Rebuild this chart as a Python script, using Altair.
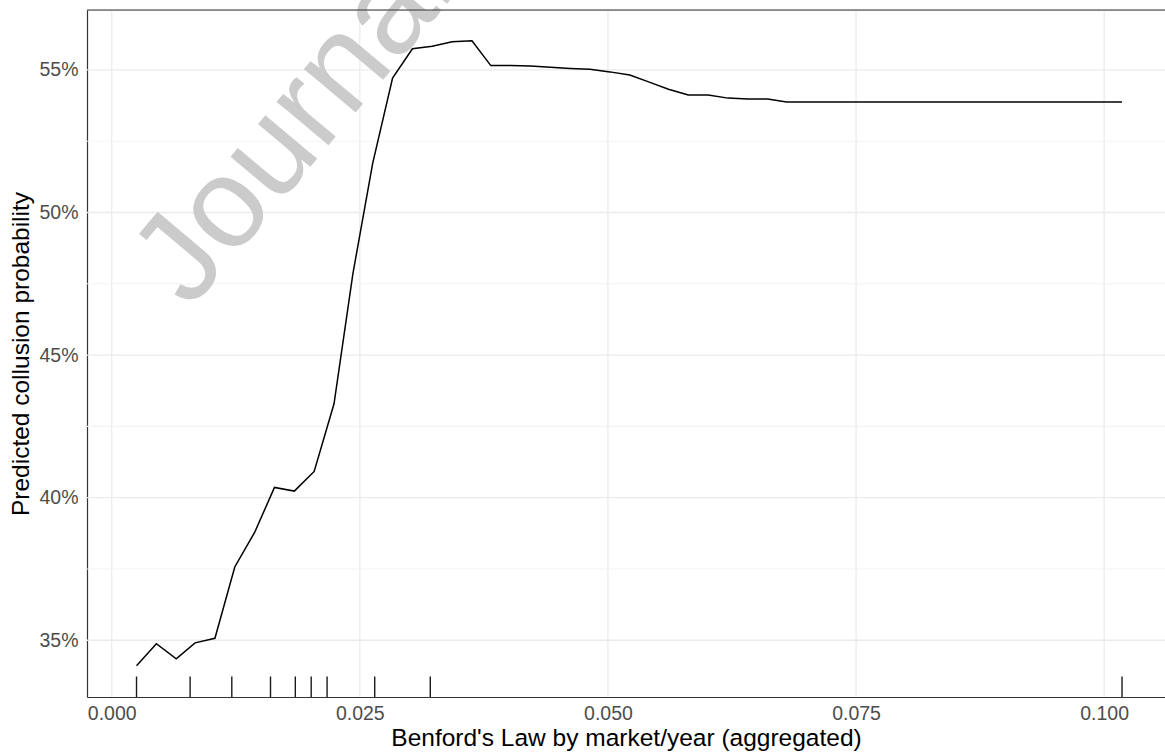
import altair as alt
import pandas as pd

# Line (predicted collusion probability vs Benford's Law statistic)
x_vals = [0.0025, 0.0045, 0.0065, 0.0084, 0.0104, 0.0124, 0.0144, 0.0164, 0.0184, 0.0204,
          0.0224, 0.0243, 0.0263, 0.0283, 0.0303, 0.0323, 0.0343, 0.0363, 0.0382, 0.0402,
          0.0422, 0.0442, 0.0462, 0.0482, 0.0502, 0.0522, 0.0541, 0.0561, 0.0581, 0.0601,
          0.0621, 0.0641, 0.0661, 0.0680, 0.0700, 0.0720, 0.0740, 0.0760, 0.0780, 0.0800,
          0.0819, 0.0839, 0.0859, 0.0879, 0.0899, 0.0919, 0.0939, 0.0959, 0.0978, 0.0998,
          0.1018]
y_vals = [0.3411, 0.3488, 0.3435, 0.3491, 0.3507, 0.3757, 0.3878, 0.4036, 0.4023, 0.4092,
          0.4329, 0.4785, 0.5173, 0.5471, 0.5574, 0.5583, 0.5599, 0.5602, 0.5515, 0.5515,
          0.5514, 0.5509, 0.5505, 0.5502, 0.5493, 0.5482, 0.5458, 0.5432, 0.5412, 0.5412,
          0.5401, 0.5398, 0.5398, 0.5387, 0.5387, 0.5387, 0.5387, 0.5387, 0.5387, 0.5387,
          0.5387, 0.5387, 0.5387, 0.5387, 0.5387, 0.5387, 0.5387, 0.5387, 0.5387, 0.5387,
          0.5387]

# Rug (observed values)
rug_x = [0.0025, 0.0079, 0.0121, 0.0160, 0.0185, 0.0201, 0.0217, 0.0265, 0.0321, 0.1018]

x_ticks = [0.0, 0.025, 0.05, 0.075, 0.1]
y_ticks = [0.35, 0.40, 0.45, 0.50, 0.55]
y_minor = [0.375, 0.425, 0.475, 0.525]

W, H = 1078, 687
FONT = "Liberation Sans"

xscale = alt.Scale(domain=[-0.00249, 0.10613], nice=False, zero=False)
yscale = alt.Scale(domain=[0.3301, 0.5710], nice=False, zero=False)

x_axis = alt.Axis(values=x_ticks, format=".3f", grid=False, ticks=False,
                  domain=True, domainColor="#333333", domainWidth=1.2,
                  labelFontSize=19.5, labelColor="#4d4d4d", labelPadding=7,
                  labelFont=FONT,
                  title="Benford's Law by market/year (aggregated)",
                  titleFont=FONT, titleFontSize=24.5, titleFontWeight="normal",
                  titleColor="#000000", titlePadding=4)
y_axis = alt.Axis(values=y_ticks, format=".0%", grid=False, ticks=False,
                  domain=True, domainColor="#333333", domainWidth=1.2,
                  labelFontSize=19.5, labelColor="#4d4d4d", labelPadding=9,
                  labelFont=FONT,
                  title="Predicted collusion probability",
                  titleFont=FONT, titleFontSize=24.5, titleFontWeight="normal",
                  titleColor="#000000", titlePadding=5)

line_df = pd.DataFrame({"x": x_vals, "y": y_vals})
rug_df = pd.DataFrame({"x": rug_x})
xgrid_df = pd.DataFrame({"x": x_ticks})
ygrid_df = pd.DataFrame({"y": y_ticks})
yminor_df = pd.DataFrame({"y": y_minor})

xgrid = alt.Chart(xgrid_df).mark_rule(color="#ebebeb", strokeWidth=1.3).encode(
    x=alt.X("x:Q", scale=xscale, axis=x_axis)
)
yminor = alt.Chart(yminor_df).mark_rule(color="#f3f3f3", strokeWidth=1.1).encode(
    y=alt.Y("y:Q", scale=yscale, axis=y_axis)
)
ygrid = alt.Chart(ygrid_df).mark_rule(color="#ebebeb", strokeWidth=1.3).encode(
    y=alt.Y("y:Q", scale=yscale, axis=y_axis)
)

watermark = alt.Chart(pd.DataFrame({"t": ["Journal"]})).mark_text(
    font=FONT, fontSize=128, color="#cbcbcb", angle=310, align="left",
    baseline="alphabetic"
).encode(text="t:N", x=alt.value(103), y=alt.value(300))

line = alt.Chart(line_df).mark_line(color="#000000", strokeWidth=1.5).encode(
    x=alt.X("x:Q", scale=xscale, axis=x_axis),
    y=alt.Y("y:Q", scale=yscale, axis=y_axis),
)

rug = alt.Chart(rug_df).mark_rule(color="#1a1a1a", strokeWidth=1.4).encode(
    x=alt.X("x:Q", scale=xscale, axis=x_axis),
    y=alt.value(H - 20.5),
    y2=alt.value(H),
)

top_border = alt.Chart(pd.DataFrame({"a": [0]})).mark_rule(
    color="#333333", strokeWidth=1.2
).encode(x=alt.value(0), x2=alt.value(W), y=alt.value(0))

chart = alt.layer(xgrid, yminor, ygrid, watermark, line, rug, top_border).properties(
    width=W, height=H,
    autosize=alt.AutoSizeParams(type="none"),
    padding={"left": 87, "top": 10, "right": 0, "bottom": 57},
).configure_view(stroke=None).configure(font=FONT, background="white")

chart.save("out.html", embed_options={"renderer": "svg", "actions": False})
